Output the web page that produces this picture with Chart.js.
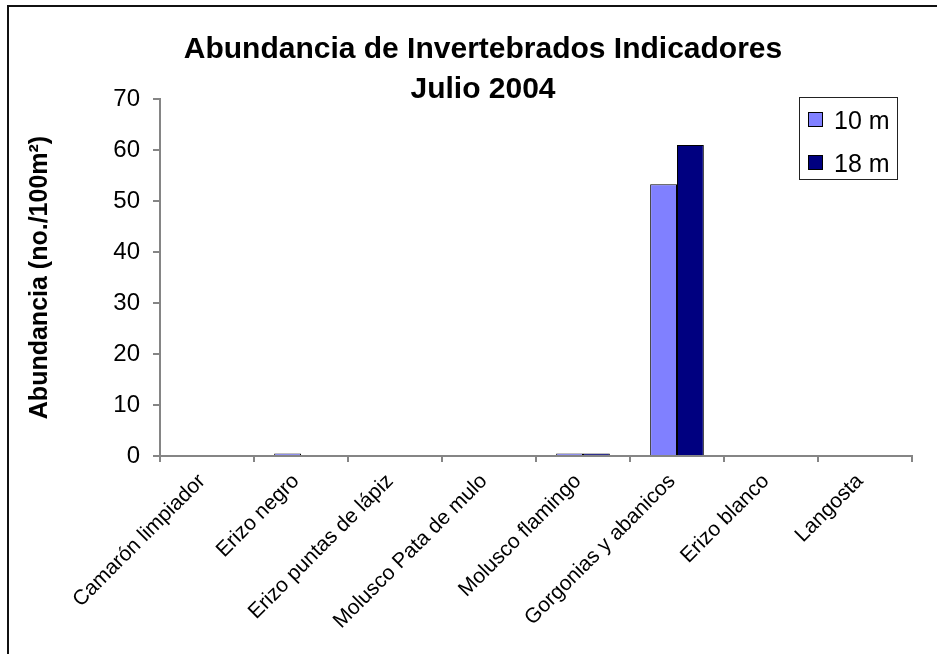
<!DOCTYPE html>
<html>
<head>
<meta charset="utf-8">
<script src="https://cdn.jsdelivr.net/npm/chart.js@4.4.1/dist/chart.umd.min.js"></script>
<style>
  html, body { margin: 0; padding: 0; background: #fff; overflow: hidden; width: 937px; height: 654px; }
  #frame { position: absolute; left: 7px; top: 5px; width: 1000px; height: 1000px; border: 2px solid #111; box-sizing: border-box; }
  #c { position: absolute; left: 0; top: 0; }
</style>
</head>
<body>
<div id="frame"></div>
<canvas id="c" width="937" height="654"></canvas>
<script>
const categories = [
  "Camarón limpiador",
  "Erizo negro",
  "Erizo puntas de lápiz",
  "Molusco Pata de mulo",
  "Molusco flamingo",
  "Gorgonias y abanicos",
  "Erizo blanco",
  "Langosta"
];
const seriesNames = ["10 m", "18 m"];
const values10m = [0, 0.5, 0, 0, 0.5, 53.3, 0, 0];
const values18m = [0, 0, 0, 0, 0.5, 61, 0, 0];
const titleLines = ["Abundancia de Invertebrados Indicadores", "Julio 2004"];
const yAxisTitle = "Abundancia (no./100m²)";

const FONT = '"Liberation Sans", Arial, Helvetica, sans-serif';
Chart.defaults.font.family = FONT;
Chart.defaults.color = '#000';

const titlePlugin = {
  id: 'excelTitle',
  afterDraw(chart) {
    const ctx = chart.ctx;
    ctx.save();
    ctx.fillStyle = '#000';
    ctx.font = 'bold 30px ' + FONT;
    ctx.textAlign = 'center';
    ctx.textBaseline = 'alphabetic';
    ctx.fillText(titleLines[0], 483, 58);
    ctx.fillText(titleLines[1], 483, 98);
    ctx.restore();
  }
};

const legendPlugin = {
  id: 'excelLegend',
  afterDraw(chart) {
    const ctx = chart.ctx;
    ctx.save();
    ctx.fillStyle = '#fff';
    ctx.fillRect(799.5, 97.5, 98, 82);
    ctx.strokeStyle = '#222';
    ctx.lineWidth = 1;
    ctx.strokeRect(799.5, 97.5, 98, 82);
    ctx.font = '25px ' + FONT;
    ctx.textAlign = 'left';
    ctx.textBaseline = 'alphabetic';
    chart.data.datasets.forEach((ds, i) => {
      const y = 112.5 + i * 43;
      ctx.fillStyle = ds.backgroundColor;
      ctx.fillRect(808.5, y, 14, 14);
      ctx.strokeStyle = '#000';
      ctx.strokeRect(808.5, y, 14, 14);
      ctx.fillStyle = '#000';
      ctx.fillText(ds.label, 834, 129 + i * 43);
    });
    ctx.restore();
  }
};

new Chart(document.getElementById('c'), {
  type: 'bar',
  data: {
    labels: categories,
    datasets: [
      { label: seriesNames[0], data: values10m, backgroundColor: '#8080FF', borderColor: '#000', borderWidth: 1, categoryPercentage: 0.571, barPercentage: 1 },
      { label: seriesNames[1], data: values18m, backgroundColor: '#000080', borderColor: '#000', borderWidth: 1, categoryPercentage: 0.571, barPercentage: 1 }
    ]
  },
  options: {
    responsive: false,
    animation: false,
    layout: { padding: { top: 99, right: 25, bottom: 0, left: 0 } },
    plugins: {
      legend: { display: false },
      title: { display: false },
      tooltip: { enabled: false }
    },
    scales: {
      x: {
        offset: true,
        grid: { display: true, drawOnChartArea: false, drawTicks: true, tickLength: 6, color: '#858585', lineWidth: 2, offset: true },
        border: { display: true, color: '#858585', width: 2 },
        ticks: { autoSkip: false, minRotation: 45, maxRotation: 45, font: { size: 21 }, color: '#000', padding: 7, labelOffset: -5 },
        afterFit(scale) { scale.height = 198; }
      },
      y: {
        min: 0,
        max: 70,
        grid: { display: true, drawOnChartArea: false, drawTicks: true, tickLength: 7, color: '#858585', lineWidth: 2 },
        border: { display: true, color: '#858585', width: 2 },
        ticks: { stepSize: 10, font: { size: 24 }, color: '#000', padding: 13 },
        title: { display: true, text: yAxisTitle, font: { size: 25, weight: 'bold' }, color: '#000', padding: { top: 25, bottom: 0 } },
        afterFit(scale) { scale.width = 160; }
      }
    }
  },
  plugins: [titlePlugin, legendPlugin]
});
</script>
</body>
</html>
